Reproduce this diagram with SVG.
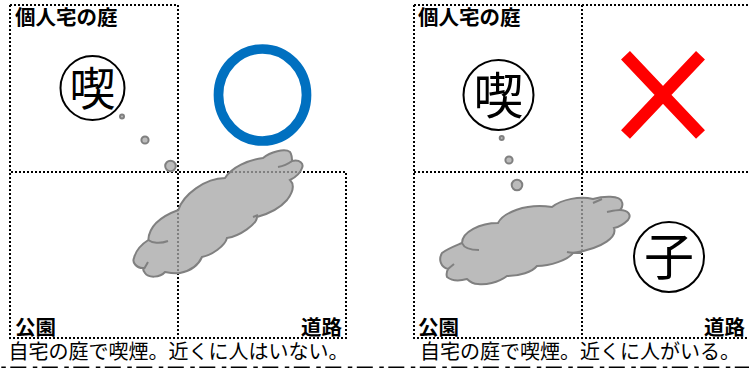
<svg xmlns="http://www.w3.org/2000/svg" width="749" height="368" viewBox="0 0 749 368">
<style>
.d{fill:none;stroke:#000;stroke-width:2;stroke-dasharray:2 2}
.t{font-family:"Noto Sans CJK JP",sans-serif;fill:#000}
.l{font-size:20.5px;font-weight:700}
.c{font-size:20px}
.cloud{fill:#a6a6a6;fill-opacity:.77;stroke:#808080;stroke-width:2}
.in{fill:none;stroke:#808080;stroke-width:2}
.ring{fill:none;stroke:#000;stroke-width:2}
.g{text-anchor:middle}
</style>
<rect width="749" height="368" fill="#fff"/>
<g id="connectors">
<path class="d" d="M10 5H178V338M10 5V338H346V172H10"/>
<path class="d" d="M414 5H749M582 5V338M414 5V338H749M414 172H749"/>
<path d="M0 367.25H749" fill="none" stroke="#000" stroke-width="1.5" stroke-dasharray="16 6.5 4.5 4.5" stroke-dashoffset="21.2"/>
</g>
<g id="left-labels">
<text class="t l" x="15" y="25">個人宅の庭</text>
<text class="t l" x="15" y="335">公園</text>
<text class="t l" x="301" y="335">道路</text>
<text class="t c" x="8.5" y="359">自宅の庭で喫煙。近くに人はいない。</text>
</g>
<g id="right-labels">
<text class="t l" x="418" y="25">個人宅の庭</text>
<text class="t l" x="418" y="335">公園</text>
<text class="t l" x="704" y="335">道路</text>
<text class="t c" x="420" y="359">自宅の庭で喫煙。近くに人がいる。</text>
</g>
<g id="smoker-left"><circle class="ring" cx="92.5" cy="88" r="32"/><text class="t g" x="92.5" y="105" style="font-size:46px">喫</text></g>
<g id="ok-mark"><ellipse cx="262.5" cy="95" rx="44" ry="46" fill="none" stroke="#0070c0" stroke-width="9.7"/></g>
<g id="smoke-left">
<circle class="cloud" cx="122" cy="116.5" r="2"/><circle class="cloud" cx="145" cy="140" r="3.6"/><circle class="cloud" cx="170.5" cy="166" r="5.3"/>
<path class="cloud" d="M148.3 240C149 226 162 216 178.3 210C183 195 205 178 225 178C232 167 248 160 263 158C270 152 285 148 290 152C292 155 292 158 292 161C300 159 304 164 302 168C300 174 294 178 290 180C295 185 293 192 287 200C280 208 268 214 257 217C257 224 240 236 227 238C225 246 212 255 202 257C198 266 190 271 180 273C175 274 170 273 165 272C160 278 148 278 145 273C143 271 143 270 143 268C136 268 132 262 134 258C136 250 142 244 148.3 240Z"/>
<path class="in" d="M148.3 240C152 243 160 244 168 241M148 262L144 269M278 167C284 166 288 164 292 161M253 217L258 215"/>
</g>
<g id="smoker-right"><circle class="ring" cx="498.5" cy="95" r="35"/><text class="t g" x="498.5" y="114" style="font-size:50px">喫</text></g>
<g id="ng-mark"><path d="M625.5 55.2L700.5 134.5M700.5 55.2L625.5 134.5" fill="none" stroke="#f00" stroke-width="12.3"/></g>
<g id="smoke-right">
<circle class="cloud" cx="501.7" cy="138" r="2"/><circle class="cloud" cx="509" cy="160" r="3.6"/><circle class="cloud" cx="517" cy="185" r="5.3"/>
<path class="cloud" d="M462 243C462 232 480 223 498 223C503 213 525 203 552 207C562 199 580 196 593 199C603 196 620 195 622 202C623 205 622 208 620 210C628 210 632 215 628 220C624 224 619 227 614 228C617 236 605 248 573 253C568 260 550 266 537 266C532 272 520 276 507 276C498 283 485 285 478 284C473 284 469 281 467 279C460 281 452 281 447 277C446 274 447 271 448 269C441 267 438 260 442 253C447 249 455 246 462 243Z"/>
<path class="in" d="M462 243C464 248 470 250 479 250M448 269L454 264M607 212C612 211 616 210 620 210M593 203L602 199M567 252C572 253 576 253 582 253"/>
</g>
<g id="child"><circle class="ring" cx="669" cy="257" r="35"/><text class="t g" x="669" y="275" style="font-size:50px">子</text></g>
</svg>
